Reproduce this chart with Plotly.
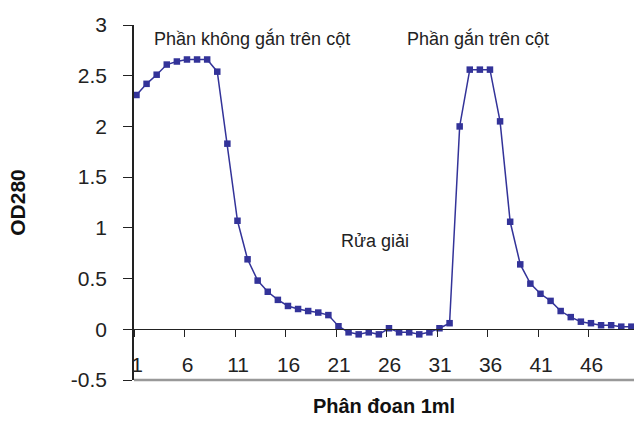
import plotly.graph_objects as go

fractions = list(range(1, 51))
od280 = [2.31, 2.42, 2.51, 2.61, 2.64, 2.66, 2.66, 2.66, 2.54, 1.83,
         1.07, 0.69, 0.48, 0.37, 0.29, 0.23, 0.20, 0.18, 0.165, 0.14,
         0.03, -0.03, -0.05, -0.03, -0.05, 0.01, -0.03, -0.03, -0.05, -0.03,
         0.01, 0.06, 2.00, 2.56, 2.56, 2.56, 2.05, 1.06, 0.64, 0.45,
         0.35, 0.28, 0.18, 0.12, 0.075, 0.06, 0.04, 0.04, 0.026, 0.026]
tick_labels = [1, 6, 11, 16, 21, 26, 31, 36, 41, 46]
y_ticks = [-0.5, 0, 0.5, 1, 1.5, 2, 2.5, 3]
y_tick_text = ["-0.5", "0", "0.5", "1", "1.5", "2", "2.5", "3"]

annotations_text = ["Phần không gắn trên cột", "Phần gắn trên cột", "Rửa giải"]
annotations_x = [12.45, 34.85, 24.6]
annotations_y = [2.87, 2.87, 0.87]

color = "#333399"
fig = go.Figure()
fig.add_trace(go.Scatter(
    x=fractions, y=od280, mode="lines+markers",
    line=dict(color=color, width=1.5),
    marker=dict(symbol="square", size=6.5, color=color),
    cliponaxis=False, showlegend=False))

for t, ax, ay in zip(annotations_text, annotations_x, annotations_y):
    fig.add_annotation(x=ax, y=ay, text=t, showarrow=False,
                       font=dict(family="Liberation Sans, Arial", size=18, color="#222"))

fig.update_layout(
    width=634, height=423,
    margin=dict(l=134, r=0, t=25, b=43),
    plot_bgcolor="white", paper_bgcolor="white",
    font=dict(family="Liberation Sans, Arial", color="#222"),
    shapes=[dict(type="line", xref="paper", yref="paper", x0=0, x1=1, y0=0, y1=0,
                 line=dict(color="#999999", width=2.5))],
    xaxis=dict(range=[0.755, 50.26], tickmode="array",
               tickvals=[c - 0.24 for c in tick_labels],
               ticktext=[str(c) for c in tick_labels],
               ticks="outside", ticklen=7, tickwidth=1.3, tickcolor="#222",
               showline=True, linecolor="#222", linewidth=1.3,
               showgrid=False, zeroline=False,
               anchor="free", position=0.5 / 3.5,
               ticklabelstandoff=9, ticklabelshift=3,
               tickfont=dict(size=21, color="#222"),
               title=dict(text="<b>Phân đoan 1ml</b>", font=dict(size=20, color="#111"),
                          standoff=24)),
    yaxis=dict(range=[-0.5, 3], tickmode="array", tickvals=y_ticks, ticktext=y_tick_text,
               ticks="outside", ticklen=9, tickwidth=1.3, tickcolor="#222",
               showline=True, linecolor="#222", linewidth=1.5,
               showgrid=False, zeroline=False,
               ticklabelstandoff=12,
               tickfont=dict(size=21, color="#222"),
               title=dict(text="<b>OD280</b>", font=dict(size=21, color="#111"),
                          standoff=40)),
)

fig.write_html("out.html")
